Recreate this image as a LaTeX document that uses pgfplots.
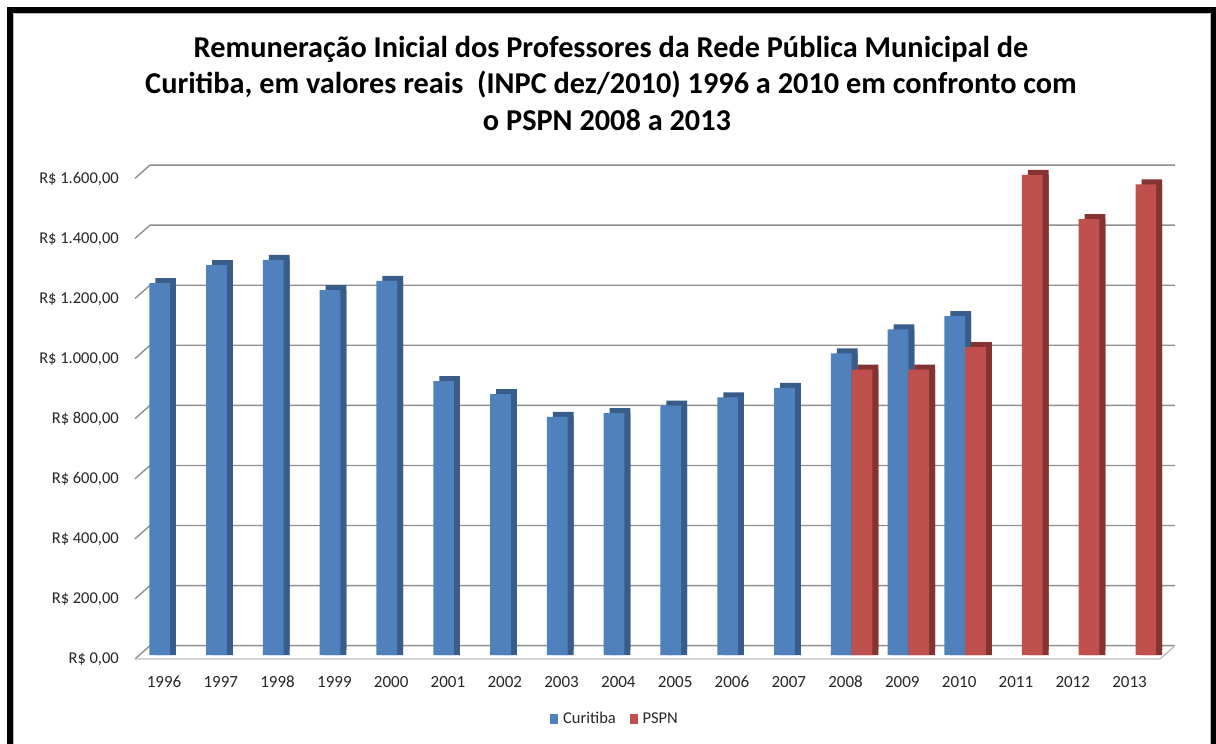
\documentclass[border=0pt]{standalone}
\usepackage{fontspec}
\setmainfont{Carlito}
\usepackage{pgfplots}
\pgfplotsset{compat=1.18}
\definecolor{cblue}{HTML}{4F81BD}
\definecolor{cbluedark}{HTML}{385D8A}
\definecolor{cred}{HTML}{C0504D}
\definecolor{creddark}{HTML}{843331}
\definecolor{gridgray}{HTML}{8F8F8F}
\definecolor{floorgray}{HTML}{BFBFBF}

\pgfplotstableread{
x  v
0  1238
1  1298
2  1315
3  1215
4  1245
5  912
6  868
7  793
8  805
9  830
10 858
11 889
12 1004
13 1084
14 1128
}\curitiba
\pgfplotstableread{
x  v
12 950
13 950
14 1024.67
15 1597.87
16 1451
17 1567
}\pspn

\begin{document}
\begin{tikzpicture}
\path[use as bounding box, fill=white] (0,0) rectangle (1216bp,744bp);
\draw[line width=6bp, black] (10bp,-10bp) -- (10bp,734bp) -- (1214bp,734bp) -- (1214bp,-10bp);
\draw[gray!55, line width=0.8bp] (13.6bp,-10bp) -- (13.6bp,730.4bp) -- (1210.4bp,730.4bp) -- (1210.4bp,-10bp);

\begin{scope}[every node/.style={font=\fontsize{30.3bp}{34bp}\selectfont\bfseries, inner sep=0pt, anchor=base}]
\node at (611bp,686.5bp) {Remuneração Inicial dos Professores da Rede Pública Municipal de};
\node at (611bp,650bp) {Curitiba, em valores reais\ \ (INPC dez/2010) 1996 a 2010 em confronto com};
\node at (607bp,613.5bp) {o PSPN 2008 a 2013};
\end{scope}

\begin{axis}[
  at={(139.5bp,89bp)}, anchor=south west,
  width=1025bp, height=495.66bp, scale only axis,
  xmin=-0.537, xmax=17.51, ymin=0, ymax=1650,
  clip=false,
  axis line style={draw=none},
  major tick length=0pt,
  tick style={draw=none},
  xtick={0,1,...,17},
  xticklabels={1996,1997,1998,1999,2000,2001,2002,2003,2004,2005,2006,2007,2008,2009,2010,2011,2012,2013},
  ytick={0,200,...,1600},
  yticklabels={{R\$ 0,00},{R\$ 200,00},{R\$ 400,00},{R\$ 600,00},{R\$ 800,00},{R\$ 1.000,00},{R\$ 1.200,00},{R\$ 1.400,00},{R\$ 1.600,00}},
  xticklabel style={font=\fontsize{17bp}{20bp}\selectfont, text=black!85, inner sep=0pt, anchor=north, yshift=-21bp, xshift=-6bp},
  yticklabel style={font=\fontsize{16.5bp}{20bp}\selectfont, text=black!85, inner sep=0pt, anchor=east, xshift=-20.5bp, yshift=-4.5bp},
  ybar=0pt, bar width=20.7bp,
  legend style={at={(0.464,-0.129)}, anchor=center, draw=none, fill=none,
    legend columns=2, font=\fontsize{16.5bp}{20bp}\selectfont, text=black!85,
    /tikz/every even column/.append style={column sep=12bp},
    inner sep=0pt},
  legend image code/.code={\fill[#1] (0bp,-5bp) rectangle (7.7bp,5bp);},
  legend cell align=left,
]
% back wall gridlines with left slant
\pgfplotsinvokeforeach{0,200,...,1600}{
  \draw[gridgray, line width=1.4bp] ([shift={(-4.5bp,-4bp)}]axis cs:-0.537,#1) -- ([shift={(10.5bp,9.3bp)}]axis cs:-0.537,#1) -- ([shift={(10.5bp,9.3bp)}]axis cs:17.51,#1);
}
% floor front edge
\draw[floorgray, line width=1.4bp] ([shift={(-4.5bp,-4bp)}]axis cs:-0.537,0) -- ([shift={(-4.5bp,-4bp)}]axis cs:17.51,0) -- ([shift={(10.5bp,9.3bp)}]axis cs:17.51,0);

\addplot[forget plot, fill=cbluedark, draw=none, bar shift=-10.35bp, xshift=6bp] table[x=x,y=v] {\curitiba};
\addplot[forget plot, fill=cbluedark, draw=none, bar shift=-10.35bp, xshift=6bp, yshift=5bp] table[x=x,y=v] {\curitiba};
\addplot[fill=cblue, draw=none, bar shift=-10.35bp] table[x=x,y=v] {\curitiba};
\addplot[forget plot, fill=creddark, draw=none, bar shift=10.35bp, xshift=6bp] table[x=x,y=v] {\pspn};
\addplot[forget plot, fill=creddark, draw=none, bar shift=10.35bp, xshift=6bp, yshift=5bp] table[x=x,y=v] {\pspn};
\addplot[fill=cred, draw=none, bar shift=10.35bp] table[x=x,y=v] {\pspn};
\legend{\hspace{3bp}Curitiba,\hspace{3bp}PSPN}
\end{axis}
\end{tikzpicture}
\end{document}
